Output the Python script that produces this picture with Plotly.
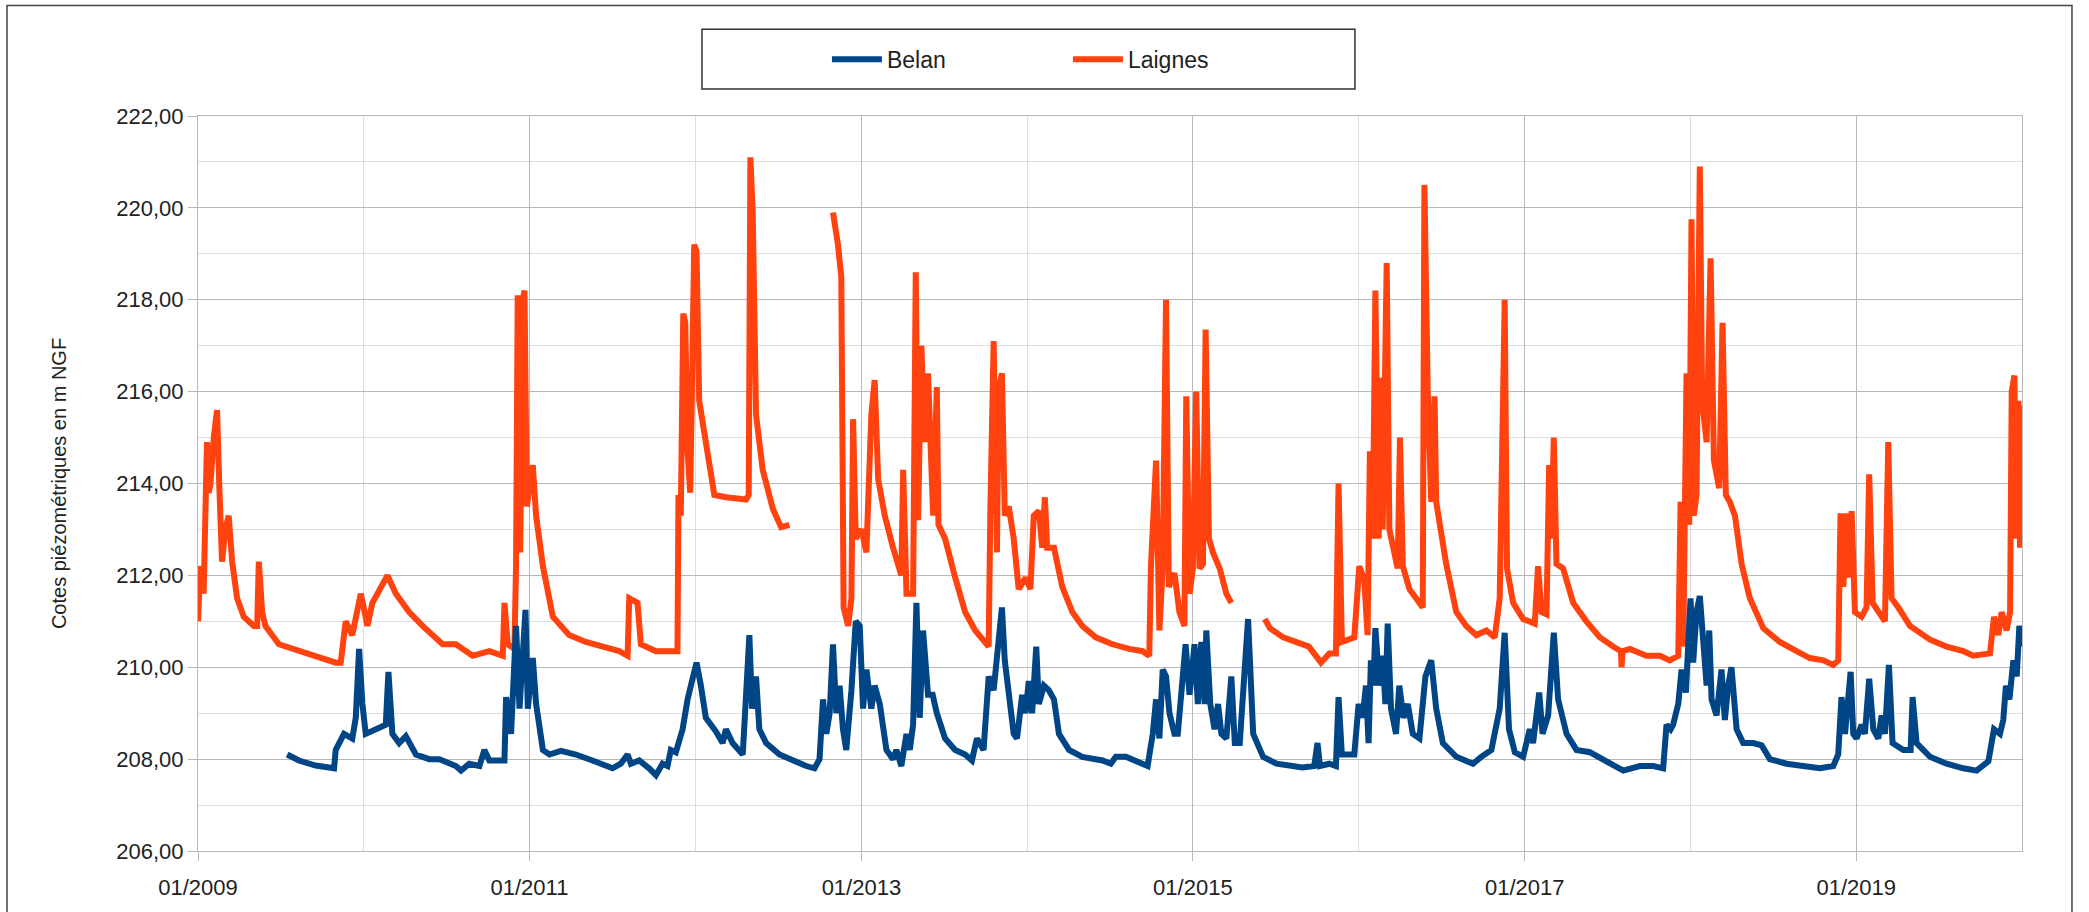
import pandas as pd
import plotly.graph_objects as go

# ---- data (decimal years, m NGF) ----
belan_t = [
    2009.538, 2009.609, 2009.710, 2009.821, 2009.831, 2009.881, 2009.931, 2009.952, 2009.972, 2009.992,
    2010.012, 2010.093, 2010.133, 2010.149, 2010.173, 2010.214, 2010.254, 2010.315, 2010.395, 2010.456,
    2010.556, 2010.587, 2010.637, 2010.698, 2010.728, 2010.758, 2010.849, 2010.859, 2010.889, 2010.919,
    2010.940, 2010.976, 2010.990, 2011.020, 2011.040, 2011.081, 2011.121, 2011.190, 2011.280, 2011.380,
    2011.501, 2011.551, 2011.592, 2011.612, 2011.662, 2011.722, 2011.763, 2011.803, 2011.833, 2011.853,
    2011.883, 2011.924, 2011.954, 2011.984, 2012.008, 2012.034, 2012.064, 2012.125, 2012.165, 2012.185,
    2012.225, 2012.286, 2012.306, 2012.326, 2012.342, 2012.366, 2012.386, 2012.427, 2012.507, 2012.588,
    2012.668, 2012.718, 2012.748, 2012.769, 2012.789, 2012.809, 2012.829, 2012.849, 2012.869, 2012.889,
    2012.909, 2012.940, 2012.966, 2012.990, 2013.010, 2013.030, 2013.060, 2013.080, 2013.111, 2013.151,
    2013.191, 2013.211, 2013.241, 2013.272, 2013.292, 2013.312, 2013.332, 2013.352, 2013.372, 2013.402,
    2013.430, 2013.455, 2013.505, 2013.566, 2013.626, 2013.667, 2013.697, 2013.737, 2013.768, 2013.798,
    2013.828, 2013.848, 2013.865, 2013.889, 2013.919, 2013.939, 2013.970, 2013.990, 2014.010, 2014.030,
    2014.055, 2014.071, 2014.101, 2014.131, 2014.162, 2014.192, 2014.253, 2014.333, 2014.455, 2014.505,
    2014.535, 2014.596, 2014.657, 2014.727, 2014.758, 2014.778, 2014.798, 2014.818, 2014.838, 2014.859,
    2014.889, 2014.909, 2014.956, 2014.980, 2015.010, 2015.030, 2015.051, 2015.071, 2015.081, 2015.105,
    2015.131, 2015.152, 2015.172, 2015.202, 2015.232, 2015.253, 2015.283, 2015.333, 2015.364, 2015.424,
    2015.505, 2015.586, 2015.660, 2015.732, 2015.752, 2015.767, 2015.823, 2015.863, 2015.879, 2015.899,
    2015.974, 2016.000, 2016.024, 2016.044, 2016.060, 2016.074, 2016.089, 2016.101, 2016.125, 2016.145,
    2016.161, 2016.175, 2016.195, 2016.225, 2016.245, 2016.270, 2016.296, 2016.326, 2016.366, 2016.402,
    2016.437, 2016.467, 2016.507, 2016.588, 2016.688, 2016.738, 2016.799, 2016.849, 2016.879, 2016.905,
    2016.940, 2016.990, 2017.030, 2017.050, 2017.087, 2017.107, 2017.141, 2017.175, 2017.201, 2017.252,
    2017.312, 2017.392, 2017.473, 2017.594, 2017.694, 2017.775, 2017.835, 2017.855, 2017.880, 2017.895,
    2017.926, 2017.946, 2017.972, 2017.986, 2018.000, 2018.016, 2018.036, 2018.056, 2018.076, 2018.097,
    2018.113, 2018.127, 2018.157, 2018.187, 2018.207, 2018.227, 2018.247, 2018.278, 2018.318, 2018.378,
    2018.429, 2018.479, 2018.579, 2018.680, 2018.781, 2018.861, 2018.891, 2018.911, 2018.932, 2018.966,
    2018.982, 2019.002, 2019.032, 2019.052, 2019.078, 2019.103, 2019.133, 2019.153, 2019.173, 2019.197,
    2019.219, 2019.284, 2019.328, 2019.340, 2019.364, 2019.445, 2019.545, 2019.646, 2019.726, 2019.797,
    2019.831, 2019.867, 2019.887, 2019.903, 2019.924, 2019.948, 2019.968, 2019.984, 2019.998,
]
belan_v = [
    208.10, 207.97, 207.86, 207.80, 208.20, 208.55, 208.45, 208.90, 210.40, 209.20,
    208.55, 208.70, 208.75, 209.90, 208.55, 208.35, 208.50, 208.10, 208.00, 208.00,
    207.85, 207.75, 207.90, 207.85, 208.20, 207.97, 207.97, 209.35, 208.55, 210.90,
    209.10, 211.25, 209.10, 210.20, 209.20, 208.20, 208.10, 208.18, 208.10, 207.97,
    207.80, 207.90, 208.10, 207.90, 207.97, 207.80, 207.65, 207.90, 207.85, 208.20,
    208.15, 208.65, 209.30, 209.75, 210.10, 209.60, 208.90, 208.60, 208.35, 208.65,
    208.35, 208.10, 209.30, 210.70, 209.10, 209.80, 208.65, 208.35, 208.10, 207.97,
    207.85, 207.80, 208.00, 209.30, 208.55, 209.00, 210.50, 209.00, 209.60, 208.65,
    208.20, 209.50, 211.00, 210.90, 209.10, 209.95, 209.10, 209.60, 209.20, 208.20,
    208.00, 208.20, 207.85, 208.55, 208.20, 208.75, 211.40, 208.90, 210.80, 209.40,
    209.40, 209.00, 208.45, 208.20, 208.10, 207.97, 208.45, 208.20, 209.80, 209.50,
    210.70, 211.30, 210.15, 209.30, 208.55, 208.45, 209.40, 209.00, 209.70, 209.00,
    210.45, 209.20, 209.60, 209.50, 209.30, 208.55, 208.20, 208.05, 207.97, 207.90,
    208.05, 208.05, 207.97, 207.85, 208.55, 209.30, 208.45, 209.95, 209.80, 209.00,
    208.55, 208.55, 210.50, 209.40, 210.50, 209.20, 210.55, 209.20, 210.80, 209.20,
    208.65, 209.20, 208.55, 208.45, 209.80, 208.35, 208.35, 211.05, 208.55, 208.05,
    207.90, 207.85, 207.82, 207.85, 208.35, 207.85, 207.90, 207.85, 209.35, 208.10,
    208.10, 209.20, 208.90, 209.60, 208.35, 210.15, 209.60, 210.85, 209.60, 210.25,
    209.20, 210.95, 209.10, 208.55, 209.60, 208.90, 209.20, 208.55, 208.45, 209.80,
    210.15, 209.10, 208.35, 208.05, 207.90, 208.05, 208.20, 209.10, 210.75, 208.65,
    208.15, 208.05, 208.65, 208.35, 209.45, 208.55, 208.95, 210.75, 209.30, 208.55,
    208.20, 208.15, 208.00, 207.75, 207.85, 207.85, 207.80, 208.75, 208.65, 208.75,
    209.20, 209.95, 209.45, 210.70, 211.50, 210.10, 211.20, 211.55, 210.35, 209.60,
    210.80, 209.30, 208.95, 209.95, 208.85, 209.60, 210.00, 208.65, 208.35, 208.35,
    208.30, 208.00, 207.90, 207.85, 207.80, 207.85, 208.10, 209.35, 208.55, 209.90,
    208.55, 208.45, 208.75, 208.55, 209.75, 208.65, 208.45, 208.95, 208.55, 210.05,
    208.35, 208.20, 208.20, 209.35, 208.35, 208.05, 207.90, 207.80, 207.75, 207.95,
    208.65, 208.55, 208.85, 209.60, 209.30, 210.15, 209.80, 210.90, 210.45,
]

laignes_t = [
    2009.000, 2009.014, 2009.034, 2009.054, 2009.065, 2009.075, 2009.095, 2009.115, 2009.129, 2009.145,
    2009.165, 2009.185, 2009.206, 2009.236, 2009.276, 2009.337, 2009.357, 2009.367, 2009.387, 2009.407,
    2009.488, 2009.570, 2009.649, 2009.750, 2009.831, 2009.861, 2009.891, 2009.931, 2009.960, 2009.982,
    2010.000, 2010.022, 2010.052, 2010.100, 2010.143, 2010.194, 2010.274, 2010.355, 2010.476, 2010.556,
    2010.657, 2010.758, 2010.839, 2010.849, 2010.869, 2010.909, 2010.919, 2010.929, 2010.944, 2010.960,
    2010.970, 2010.984, 2011.000, 2011.020, 2011.040, 2011.081, 2011.141, 2011.200, 2011.239, 2011.340,
    2011.441, 2011.541, 2011.592, 2011.602, 2011.652, 2011.672, 2011.763, 2011.863, 2011.893, 2011.899,
    2011.913, 2011.928, 2011.940, 2011.954, 2011.970, 2011.980, 2011.994, 2012.008, 2012.024, 2012.064,
    2012.115, 2012.185, 2012.306, 2012.322, 2012.332, 2012.346, 2012.366, 2012.406, 2012.467, 2012.517,
    2012.567, 2012.700, 2012.829, 2012.859, 2012.879, 2012.889, 2012.893, 2012.920, 2012.940, 2012.950,
    2012.966, 2013.000, 2013.030, 2013.060, 2013.080, 2013.101, 2013.141, 2013.191, 2013.241, 2013.252,
    2013.272, 2013.312, 2013.328, 2013.342, 2013.362, 2013.382, 2013.402, 2013.433, 2013.455, 2013.465,
    2013.505, 2013.566, 2013.626, 2013.687, 2013.737, 2013.768, 2013.778, 2013.798, 2013.818, 2013.828,
    2013.848, 2013.865, 2013.889, 2013.919, 2013.949, 2013.990, 2014.020, 2014.040, 2014.071, 2014.091,
    2014.107, 2014.121, 2014.162, 2014.212, 2014.273, 2014.333, 2014.414, 2014.515, 2014.616, 2014.697,
    2014.737, 2014.747, 2014.778, 2014.798, 2014.818, 2014.838, 2014.855, 2014.889, 2014.919, 2014.949,
    2014.960, 2014.980, 2015.000, 2015.020, 2015.040, 2015.061, 2015.077, 2015.097, 2015.121, 2015.162,
    2015.202, 2015.232, 2015.330, 2015.434, 2015.465, 2015.545, 2015.626, 2015.700, 2015.773, 2015.823,
    2015.863, 2015.879, 2015.899, 2015.974, 2016.004, 2016.034, 2016.054, 2016.068, 2016.085, 2016.101,
    2016.121, 2016.135, 2016.145, 2016.169, 2016.185, 2016.215, 2016.235, 2016.249, 2016.266, 2016.306,
    2016.366, 2016.386, 2016.396, 2016.416, 2016.437, 2016.457, 2016.467, 2016.527, 2016.588, 2016.648,
    2016.708, 2016.769, 2016.819, 2016.849, 2016.879, 2016.893, 2016.930, 2016.990, 2017.060, 2017.080,
    2017.101, 2017.131, 2017.147, 2017.160, 2017.175, 2017.191, 2017.231, 2017.292, 2017.372, 2017.453,
    2017.533, 2017.580, 2017.584, 2017.590, 2017.634, 2017.734, 2017.815, 2017.875, 2017.926, 2017.940,
    2017.956, 2017.976, 2017.992, 2018.006, 2018.020, 2018.036, 2018.056, 2018.070, 2018.097, 2018.121,
    2018.141, 2018.173, 2018.193, 2018.213, 2018.237, 2018.268, 2018.308, 2018.358, 2018.439, 2018.539,
    2018.640, 2018.720, 2018.801, 2018.861, 2018.891, 2018.905, 2018.922, 2018.942, 2018.958, 2018.972,
    2018.992, 2019.032, 2019.062, 2019.078, 2019.099, 2019.133, 2019.173, 2019.193, 2019.213, 2019.254,
    2019.324, 2019.445, 2019.545, 2019.646, 2019.706, 2019.807, 2019.831, 2019.857, 2019.877, 2019.907,
    2019.928, 2019.938, 2019.954, 2019.968, 2019.978, 2019.988, 2019.998,
]
laignes_v = [
    211.00, 212.20, 211.60, 214.90, 213.80, 214.00, 215.00, 215.60, 213.90, 212.30,
    213.00, 213.30, 212.30, 211.50, 211.10, 210.90, 210.90, 212.30, 211.20, 210.90,
    210.50, 210.40, 210.30, 210.20, 210.10, 210.10, 211.00, 210.70, 211.20, 211.60,
    211.30, 210.90, 211.40, 211.70, 212.00, 211.60, 211.20, 210.90, 210.50, 210.50,
    210.25, 210.35, 210.25, 211.40, 210.50, 210.40, 212.20, 218.10, 212.50, 218.00,
    218.20, 213.50, 213.90, 214.40, 213.30, 212.20, 211.10, 210.85, 210.70, 210.55,
    210.45, 210.35, 210.25, 211.50, 211.40, 210.50, 210.35, 210.35, 210.35, 213.75,
    213.30, 217.70, 217.50, 214.70, 213.80, 216.00, 219.20, 219.05, 215.80, 214.90,
    213.75, 213.70, 213.65, 213.75, 221.10, 219.90, 215.50, 214.30, 213.45, 213.05,
    213.10, None, 219.90, 219.20, 218.50, 212.80, 211.30, 210.90, 211.50, 215.40,
    212.80, 213.00, 212.50, 215.50, 216.25, 214.10, 213.30, 212.60, 212.00, 214.30,
    211.60, 211.60, 218.60, 213.20, 217.00, 214.90, 216.40, 213.30, 216.10, 213.10,
    212.80, 211.95, 211.20, 210.80, 210.55, 210.45, 213.40, 217.10, 212.50, 216.00,
    216.40, 213.30, 213.50, 212.80, 211.70, 211.95, 211.70, 213.30, 213.40, 212.60,
    213.70, 212.60, 212.60, 211.75, 211.20, 210.90, 210.65, 210.50, 210.40, 210.35,
    210.25, 212.20, 214.50, 210.80, 212.15, 218.00, 211.75, 212.05, 211.20, 210.90,
    215.90, 211.60, 212.15, 216.00, 212.15, 212.25, 217.35, 212.80, 212.50, 212.15,
    211.60, 211.40, None, 211.05, 210.85, 210.65, 210.55, 210.45, 210.10, 210.30,
    210.30, 214.00, 210.55, 210.65, 212.20, 211.90, 210.70, 214.70, 212.80, 218.20,
    212.80, 216.30, 213.00, 218.80, 213.00, 212.50, 212.15, 215.00, 212.20, 211.70,
    211.40, 211.30, 220.50, 216.00, 213.60, 215.90, 213.60, 212.25, 211.20, 210.90,
    210.70, 210.80, 210.65, 211.50, 218.00, 212.15, 211.40, 211.05, 210.95, 212.20,
    211.20, 211.15, 214.40, 212.80, 215.00, 212.25, 212.15, 211.40, 211.00, 210.65,
    210.45, 210.35, 210.00, 210.35, 210.40, 210.25, 210.25, 210.15, 210.25, 213.60,
    210.45, 216.40, 213.10, 219.75, 213.30, 213.75, 220.90, 215.80, 214.90, 218.90,
    214.50, 213.90, 217.50, 213.75, 213.60, 213.30, 212.25, 211.50, 210.85, 210.55,
    210.35, 210.20, 210.15, 210.05, 210.15, 213.35, 211.75, 213.35, 211.95, 213.40,
    211.20, 211.10, 211.30, 214.20, 211.40, 211.20, 211.00, 214.90, 211.50, 211.30,
    210.90, 210.60, 210.45, 210.35, 210.25, 210.30, 211.10, 210.70, 211.20, 210.80,
    211.20, 216.00, 216.35, 212.80, 215.80, 212.60, 215.70,
]

x_range = ["2009-01-01", "2020-01-01"]
y_range = [206, 222]
series_names = ["Belan", "Laignes"]
series_colors = ["#004586", "#ff420e"]
y_title = "Cotes piézométriques en m NGF"


def to_dates(ts):
    out = []
    for t in ts:
        y = int(t)
        start = pd.Timestamp(year=y, month=1, day=1)
        end = pd.Timestamp(year=y + 1, month=1, day=1)
        out.append(start + (t - y) * (end - start))
    return out


fig = go.Figure()
fig.add_trace(go.Scatter(
    x=to_dates(laignes_t), y=laignes_v, mode="lines", name=series_names[1],
    line=dict(color=series_colors[1], width=6), connectgaps=False, legendrank=2,
))
fig.add_trace(go.Scatter(
    x=to_dates(belan_t), y=belan_v, mode="lines", name=series_names[0],
    line=dict(color=series_colors[0], width=6), connectgaps=False, legendrank=1,
))

FONT = "Liberation Sans, Arial, sans-serif"
major_grid = "#b8b8b8"
minor_grid = "#dddddd"

fig.update_layout(
    width=2089, height=912,
    margin=dict(l=198, r=67, t=116, b=58, pad=0),
    paper_bgcolor="white", plot_bgcolor="white",
    separators=", ",
    font=dict(family=FONT, size=22, color="#222222"),
    showlegend=True,
    legend=dict(
        orientation="h", x=0.3448, xanchor="left", y=1.0772, yanchor="middle",
        bgcolor="rgba(0,0,0,0)", borderwidth=0, font=dict(size=23, color="#222222"),
        itemwidth=50, entrywidth=176, entrywidthmode="pixels",
    ),
    xaxis=dict(
        type="date", range=x_range, tick0="2009-01-01", dtick="M24", tickformat="%m/%Y",
        showgrid=True, gridcolor=major_grid, gridwidth=1,
        minor=dict(dtick="M12", showgrid=True, gridcolor=minor_grid, gridwidth=1),
        ticks="outside", ticklen=9, tickcolor=major_grid, tickwidth=1,
        ticklabelstandoff=8,
        showline=True, linecolor=major_grid, linewidth=1, mirror=True, zeroline=False,
        tickfont=dict(size=22, color="#222222"),
    ),
    yaxis=dict(
        range=y_range, tick0=206, dtick=2, tickformat=".2f",
        showgrid=True, gridcolor=major_grid, gridwidth=1,
        minor=dict(dtick=1, showgrid=True, gridcolor=minor_grid, gridwidth=1),
        ticks="outside", ticklen=9, tickcolor=major_grid, tickwidth=1,
        showline=True, linecolor=major_grid, linewidth=1, mirror=True, zeroline=False,
        tickfont=dict(size=22, color="#222222"),
        title=dict(text=y_title, font=dict(size=20, color="#222222"), standoff=44),
    ),
    shapes=[
        # legend frame
        dict(type="rect", xref="paper", yref="paper", x0=0.2763, x1=0.6343, y0=1.0366, y1=1.1179,
             line=dict(color="#333333", width=1.5), fillcolor="rgba(0,0,0,0)", layer="above"),
        # outer chart frame
        dict(type="rect", xref="paper", yref="paper", x0=-0.1047, x1=1.0274, y0=-0.2, y1=1.1504,
             line=dict(color="#444444", width=1.5), fillcolor="rgba(0,0,0,0)", layer="above"),
    ],
)

fig.write_html(
    "out.html",
    config={"displayModeBar": False},
    post_script="document.body.style.margin='0px';document.documentElement.style.overflow='hidden';",
)
